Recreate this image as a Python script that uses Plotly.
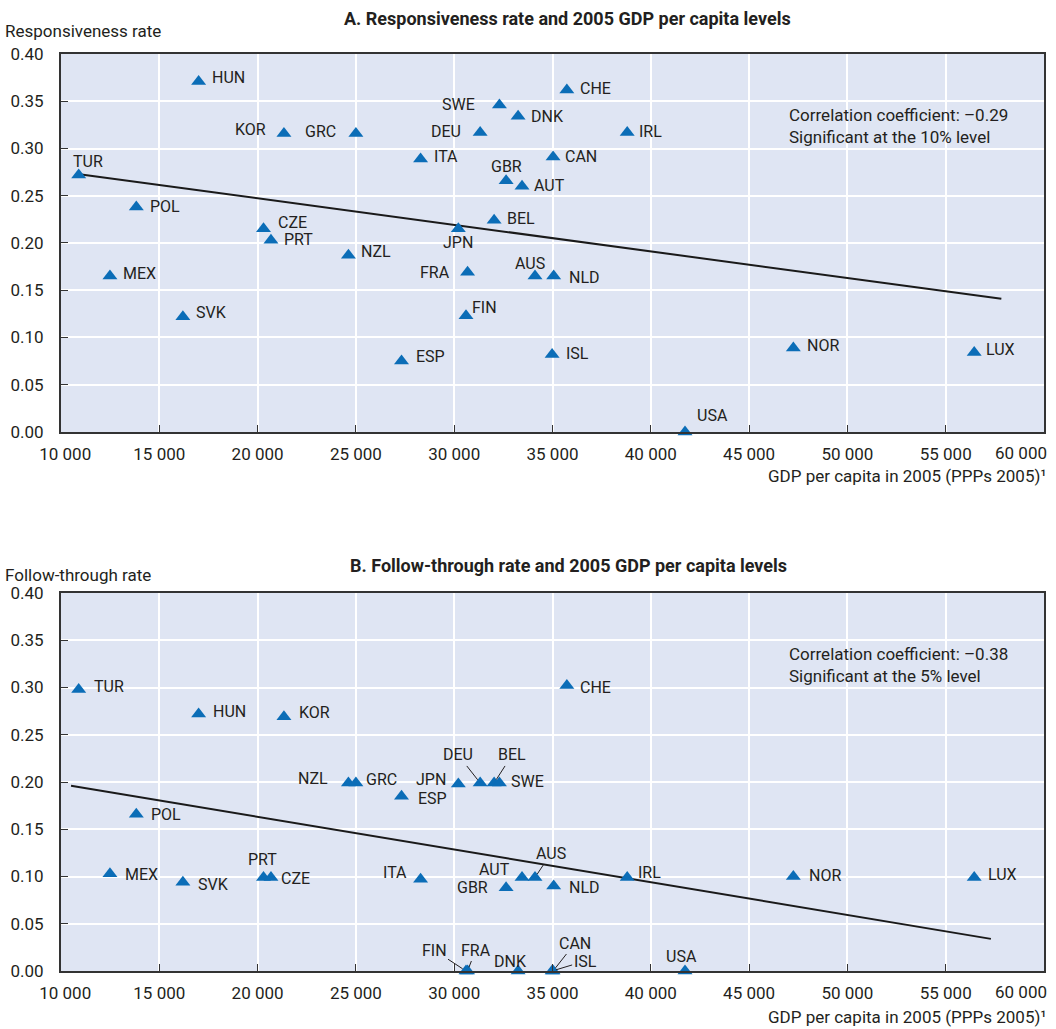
import plotly.graph_objects as go

# ---------------------------------------------------------------- data
countries = ["TUR", "MEX", "POL", "SVK", "HUN", "CZE", "PRT", "KOR", "NZL", "GRC",
             "ESP", "ITA", "JPN", "FIN", "FRA", "DEU", "BEL", "SWE", "GBR", "DNK",
             "AUT", "AUS", "ISL", "CAN", "NLD", "CHE", "IRL", "USA", "NOR", "LUX"]

gdp_per_capita = [10900, 12490, 13830, 16200, 17000, 20300, 20680, 21340, 24620, 25000,
                  27320, 28290, 30210, 30600, 30680, 31320, 32030, 32300, 32640, 33250,
                  33450, 34110, 34980, 35030, 35060, 35730, 38800, 41740, 47250, 56450]

responsiveness = [0.272, 0.165, 0.238, 0.122, 0.371, 0.215, 0.203, 0.316, 0.187, 0.316,
                  0.075, 0.289, 0.215, 0.123, 0.169, 0.317, 0.224, 0.346, 0.266, 0.334,
                  0.260, 0.165, 0.082, 0.291, 0.165, 0.362, 0.317, 0.000, 0.089, 0.084]

follow_through = [0.298, 0.103, 0.166, 0.094, 0.272, 0.099, 0.099, 0.269, 0.199, 0.199,
                  0.185, 0.097, 0.198, 0.000, 0.000, 0.199, 0.199, 0.199, 0.088, 0.000,
                  0.099, 0.099, 0.000, 0.000, 0.090, 0.302, 0.099, 0.000, 0.100, 0.099]

# fitted regression lines (end points)
fit_a_x = [11030, 57830]
fit_a_y = [0.2725, 0.141]
fit_b_x = [10510, 57300]
fit_b_y = [0.196, 0.034]

corr_a = ["Correlation coefficient: \u20130.29", "Significant at the 10% level"]
corr_b = ["Correlation coefficient: \u20130.38", "Significant at the 5% level"]

x_ticks = [10000, 15000, 20000, 25000, 30000, 35000, 40000, 45000, 50000, 55000, 60000]
y_ticks = [0.00, 0.05, 0.10, 0.15, 0.20, 0.25, 0.30, 0.35, 0.40]

title_a = "A. Responsiveness rate and 2005 GDP per capita levels"
title_b = "B. Follow-through rate and 2005 GDP per capita levels"
ytitle_a = "Responsiveness rate"
ytitle_b = "Follow-through rate"
xtitle = "GDP per capita in 2005 (PPPs 2005)\u00b9"

# ---------------------------------------------------------------- label placement
# (kind, dx, dy): r = right of marker, l = left, c = centred, a = with leader line
# dx/dy in pixels, dy positive upwards
place_a = {
    "TUR": ("c", 9, 13), "MEX": ("r", 11, 3), "POL": ("r", 12, 1), "SVK": ("r", 11, 4),
    "HUN": ("r", 11, 4), "CZE": ("r", 12, 6), "PRT": ("r", 11, 1), "KOR": ("l", -16, 4),
    "NZL": ("r", 11, 4), "GRC": ("l", -18, 2), "ESP": ("r", 12, 5), "ITA": ("r", 11, 2),
    "JPN": ("c", 0, -14), "FIN": ("r", 4, 8), "FRA": ("l", -16, 0), "DEU": ("l", -17, 1),
    "BEL": ("r", 11, 2), "SWE": ("l", -22, 1), "GBR": ("c", 0, 14), "DNK": ("r", 11, 0),
    "AUT": ("r", 10, 1), "AUS": ("c", -5, 13), "ISL": ("r", 12, 1), "CAN": ("r", 10, 1),
    "NLD": ("r", 13, -1), "CHE": ("r", 11, 1), "IRL": ("r", 10, 1), "USA": ("c", 27, 16),
    "NOR": ("r", 12, 2), "LUX": ("r", 10, 3),
}
place_b = {
    "TUR": ("r", 13, 3), "MEX": ("r", 13, -1), "POL": ("r", 13, 0), "SVK": ("r", 13, -2),
    "HUN": ("r", 12, 2), "CZE": ("r", 15, -1), "PRT": ("c", -8, 18), "KOR": ("r", 13, 4),
    "NZL": ("l", -18, 4), "GRC": ("r", 8, 3), "ESP": ("r", 14, -2), "ITA": ("l", -12, 7),
    "JPN": ("l", -10, 4), "FIN": ("a", -32, 21), "FRA": ("a", 8, 21), "DEU": ("a", -22, 28),
    "BEL": ("a", 18, 28), "SWE": ("r", 10, 1), "GBR": ("l", -16, 0), "DNK": ("c", -8, 10),
    "AUT": ("l", -10, 8), "AUS": ("a", 16, 24), "ISL": ("a", 33, 10), "CAN": ("a", 22, 28),
    "NLD": ("r", 13, -2), "CHE": ("r", 11, -2), "IRL": ("r", 9, 5), "USA": ("c", -4, 15),
    "NOR": ("r", 14, 1), "LUX": ("r", 12, 3),
}

# ---------------------------------------------------------------- style
FONT = "Roboto, Liberation Sans, sans-serif"
TEXT = "#231f20"
BLUE = "#0b6db7"
BG = "#dfe5f3"
FS = 16

fig = go.Figure()

panels = [
    ("x", "y", responsiveness, fit_a_x, fit_a_y, place_a, corr_a),
    ("x2", "y2", follow_through, fit_b_x, fit_b_y, place_b, corr_b),
]

NB = "\u00a0"
x_ticktext = [f"{v // 1000}{NB}000" for v in x_ticks]
x_ticktext[0] = NB * 2 + x_ticktext[0]
last_tick_text = x_ticktext[-1]
x_ticktext[-1] = ""          # drawn right-aligned below so it stays inside the page

annotations = []
for xr, yr, values, fx, fy, place, corr in panels:
    fig.add_trace(go.Scatter(x=fx, y=fy, mode="lines", xaxis=xr, yaxis=yr,
                             line=dict(color="#1a1a1a", width=2), showlegend=False,
                             hoverinfo="skip"))
    fig.add_trace(go.Scatter(x=gdp_per_capita, y=values, mode="markers", xaxis=xr, yaxis=yr,
                             marker=dict(symbol="triangle-up", size=13, color=BLUE),
                             text=countries, cliponaxis=False, showlegend=False))
    for name, gx, val in zip(countries, gdp_per_capita, values):
        kind, dx, dy = place[name]
        base = dict(x=gx, y=val, xref=xr, yref=yr, text=name,
                    font=dict(family=FONT, size=FS, color=TEXT))
        if kind == "a":
            annotations.append(dict(base, showarrow=True, ax=dx, ay=-dy, axref="pixel",
                                    ayref="pixel", arrowhead=0, arrowwidth=1,
                                    arrowcolor=TEXT, standoff=4))
        else:
            anchor = {"r": "left", "l": "right", "c": "center"}[kind]
            annotations.append(dict(base, showarrow=False, xanchor=anchor,
                                    yanchor="middle", xshift=dx, yshift=dy))
    annotations.append(dict(x=46950, y=0.3235, xref=xr, yref=yr, text="<br>".join(corr),
                            showarrow=False, xanchor="left", yanchor="middle", align="left",
                            font=dict(family=FONT, size=17, color=TEXT)))
    # last x tick label, kept inside the right edge
    annotations.append(dict(x=x_ticks[-1], y=y_ticks[0], xref=xr, yref=yr,
                            text=last_tick_text, showarrow=False, xanchor="right",
                            yanchor="middle", xshift=5, yshift=-21,
                            font=dict(family=FONT, size=17, color=TEXT)))

# titles and axis captions (paper coordinates)
for text, x, y, anchor, bold, size in [
    (title_a, 0.5148, 1.0386, "center", True, 18),
    (title_b, 0.5158, 0.4427, "center", True, 18),
    (ytitle_a, -0.0590, 1.025, "left", False, 17),
    (ytitle_b, -0.0590, 0.4318, "left", False, 17),
    (xtitle, 1.005, 0.5397, "right", False, 17),
    (xtitle, 1.005, -0.0502, "right", False, 17),
]:
    annotations.append(dict(x=x, y=y, xref="paper", yref="paper", showarrow=False,
                            text=f"<b>{text}</b>" if bold else text,
                            xanchor=anchor, yanchor="middle",
                            font=dict(family=FONT, size=size, color=TEXT)))

xaxis_style = dict(range=[10000, 60000], tickvals=x_ticks, ticktext=x_ticktext,
                   ticks="inside", ticklen=7, tickwidth=1, tickcolor="#333333",
                   showgrid=True, gridcolor="white", gridwidth=1.5, zeroline=False,
                   showline=True, linecolor="#333333", linewidth=2, mirror=True,
                   ticklabelstandoff=6, automargin=False,
                   tickfont=dict(family=FONT, size=17, color=TEXT))
yaxis_style = dict(range=[0, 0.4], tickvals=y_ticks, tickformat=".2f",
                   ticks="inside", ticklen=7, tickwidth=1, tickcolor="#333333",
                   showgrid=True, gridcolor="white", gridwidth=1.5, zeroline=False,
                   showline=True, linecolor="#333333", linewidth=2, mirror=True,
                   ticklabelstandoff=12, automargin=False,
                   tickfont=dict(family=FONT, size=17, color=TEXT))

fig.update_layout(
    width=1056, height=1029,
    margin=dict(l=61, r=12, t=54, b=58, autoexpand=False),
    paper_bgcolor="white", plot_bgcolor=BG,
    xaxis=dict(xaxis_style, domain=[0, 1], anchor="y"),
    yaxis=dict(yaxis_style, domain=[0.5878, 1], anchor="x"),
    xaxis2=dict(xaxis_style, domain=[0, 1], anchor="y2"),
    yaxis2=dict(yaxis_style, domain=[0, 0.4122], anchor="x2"),
    annotations=annotations,
    showlegend=False,
)

fig.write_html("out.html")
